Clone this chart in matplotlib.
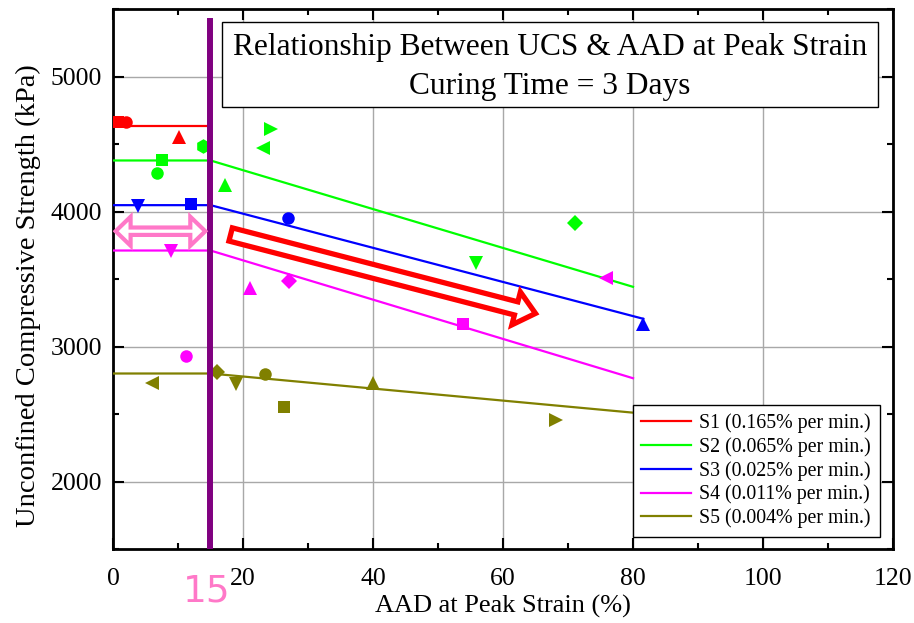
import matplotlib
matplotlib.use("Agg")
import matplotlib.pyplot as plt
from matplotlib.patches import Polygon, Rectangle
from matplotlib.ticker import MultipleLocator
import numpy as np

plt.rcParams['font.family'] = ['Liberation Serif', 'DejaVu Serif']
plt.rcParams['mathtext.fontset'] = 'stix'

# ---- measured points (AAD at peak strain %, UCS kPa) ----
s1_aad = [0.8, 2.0, 10.2]
s1_ucs = [4660, 4660, 4555]
s1_mk = ['s', 'o', '^']

s2_aad = [7.6, 6.7, 17.2, 55.9, 71.1, 23.1, 24.3, 13.9]
s2_ucs = [4378, 4287, 4195, 3620, 3916, 4472, 4613, 4484]
s2_mk = ['s', 'o', '^', 'v', 'D', '<', '>', 'h']

s3_aad = [3.9, 11.95, 26.9, 81.6]
s3_ucs = [4040, 4052, 3953, 3163]
s3_mk = ['v', 's', 'o', '^']

s4_aad = [9.0, 21.1, 27.1, 53.9, 75.9, 11.2]
s4_ucs = [3706, 3435, 3484, 3163, 3504, 2928]
s4_mk = ['v', '^', 'D', 's', '<', 'o']

s5_aad = [5.95, 16.0, 18.9, 23.4, 26.3, 40.0, 68.2]
s5_ucs = [2726, 2810, 2719, 2800, 2553, 2726, 2459]
s5_mk = ['<', 'D', 'v', 'o', 's', '^', '>']

# ---- trend lines: plateau up to the 15 % threshold, then linear decay ----
s1_fit_x = [0, 15]
s1_fit_y = [4630, 4630]
s2_fit_x = [0, 15, 80]
s2_fit_y = [4378, 4378, 3442]
s3_fit_x = [0, 15, 81.6]
s3_fit_y = [4047, 4047, 3205]
s4_fit_x = [0, 15, 80]
s4_fit_y = [3711, 3711, 2765]
s5_fit_x = [0, 15, 80]
s5_fit_y = [2800, 2800, 2510]

labels = ['S1 (0.165% per min.)', 'S2 (0.065% per min.)', 'S3 (0.025% per min.)',
          'S4 (0.011% per min.)', 'S5 (0.004% per min.)']
colors = ['#ff0000', '#00ff00', '#0000ff', '#ff00ff', '#808000']

threshold_aad = 15
x_ticks = [0, 20, 40, 60, 80, 100, 120]
y_ticks = [2000, 3000, 4000, 5000]

series = [
    (s1_aad, s1_ucs, s1_mk, s1_fit_x, s1_fit_y),
    (s2_aad, s2_ucs, s2_mk, s2_fit_x, s2_fit_y),
    (s3_aad, s3_ucs, s3_mk, s3_fit_x, s3_fit_y),
    (s4_aad, s4_ucs, s4_mk, s4_fit_x, s4_fit_y),
    (s5_aad, s5_ucs, s5_mk, s5_fit_x, s5_fit_y),
]

fig = plt.figure(figsize=(9.14, 6.23), dpi=100)
ax = fig.add_axes([0.12363, 0.11878, 0.85339, 0.86677])
ax.set_xlim(0, 120)
ax.set_ylim(1500, 5500)

msize = {'s': 8.5, 'o': 9, '^': 10.5, 'v': 10.5, '<': 10.5, '>': 10.5, 'D': 7.8, 'h': 10.5}

for (xs, ys, mks, fx, fy), lab, col in zip(series, labels, colors):
    ax.plot(fx, fy, color=col, lw=1.6, label=lab, zorder=3)
    for x, y, m in zip(xs, ys, mks):
        ax.plot([x], [y], linestyle='none', marker=m, ms=msize[m], color=col,
                markeredgewidth=0, zorder=4)

# threshold line
ax.axvline(threshold_aad, ymin=0, ymax=0.978, color='#800080', lw=4.3, zorder=5)

# grid, ticks, spines
ax.set_xticks(x_ticks)
ax.set_yticks(y_ticks)
ax.xaxis.set_minor_locator(MultipleLocator(10))
ax.yaxis.set_minor_locator(MultipleLocator(500))
ax.grid(True, which='major', color='#a8a8a8', lw=1.0, zorder=0)
ax.set_axisbelow(True)
ax.tick_params(which='both', direction='in', top=True, right=True, width=1.5)
ax.tick_params(which='major', length=8, labelsize=18.5)
ax.tick_params(which='minor', length=4.5)
ax.tick_params(axis='x', which='major', pad=14)
ax.tick_params(axis='y', which='major', pad=8)
for sp in ax.spines.values():
    sp.set_linewidth(2)

ax.set_xlabel('AAD at Peak Strain (%)', fontsize=19, va='center')
ax.set_ylabel('Unconfined Compressive Strength (kPa)', fontsize=20.5, va='center')
ax.xaxis.set_label_coords(0.5, -0.1056)
ax.yaxis.set_label_coords(-0.109, 0.4685)

# title box
ax.add_patch(Rectangle((0.1397, 0.8185), 0.8413, 0.1575, transform=ax.transAxes,
                       facecolor='white', edgecolor='black', lw=1.0, zorder=6))
ax.text(0.56, 0.9296, 'Relationship Between UCS & AAD at Peak Strain',
        transform=ax.transAxes, ha='center', va='center', fontsize=22.6, zorder=7)
ax.text(0.56, 0.857, 'Curing Time = 3 Days',
        transform=ax.transAxes, ha='center', va='center', fontsize=22.6, zorder=7)

leg = ax.legend(loc='lower right', bbox_to_anchor=(0.983, 0.022), borderaxespad=0,
                fontsize=14.3, handlelength=2.5, handletextpad=0.4, labelspacing=0.2,
                fancybox=False, edgecolor='black', framealpha=1, borderpad=0.45)
leg.get_frame().set_linewidth(1.0)
leg.set_zorder(8)


def hollow_arrow(ax, start, end, body_hw, head_hw, head_len, double=False, **kw):
    """Outline arrow built in pixel units between two data points."""
    p0 = ax.transData.transform(start)
    p1 = ax.transData.transform(end)
    d = p1 - p0
    u = d / np.hypot(*d)
    n = np.array([-u[1], u[0]])
    pts = []
    if double:
        a = p0 + u * head_len
        pts += [p0, a + n * head_hw, a + n * body_hw]
    else:
        pts += [p0 + n * body_hw]
    b = p1 - u * head_len
    pts += [b + n * body_hw, b + n * head_hw, p1, b - n * head_hw, b - n * body_hw]
    if double:
        pts += [a - n * body_hw, a - n * head_hw]
    else:
        pts += [p0 - n * body_hw]
    verts = ax.transData.inverted().transform(np.array(pts))
    ax.add_patch(Polygon(verts, closed=True, joinstyle='miter', **kw))


pink = '#ff78c8'
hollow_arrow(ax, (0.4, 3854), (14.2, 3854), body_hw=3.7, head_hw=14.5, head_len=15,
             double=True, facecolor='white', edgecolor=pink, lw=3.0, zorder=6)
hollow_arrow(ax, (18.1, 3830), (65.0, 3245), body_hw=6.8, head_hw=17, head_len=20,
             facecolor='white', edgecolor='#ff0000', lw=3.8, zorder=6)

fig.text(207 / 914, 1 - 592 / 623, '15', color=pink, fontsize=27,
         family='DejaVu Sans', ha='center', va='center')

fig.savefig('out.png', dpi=100)
